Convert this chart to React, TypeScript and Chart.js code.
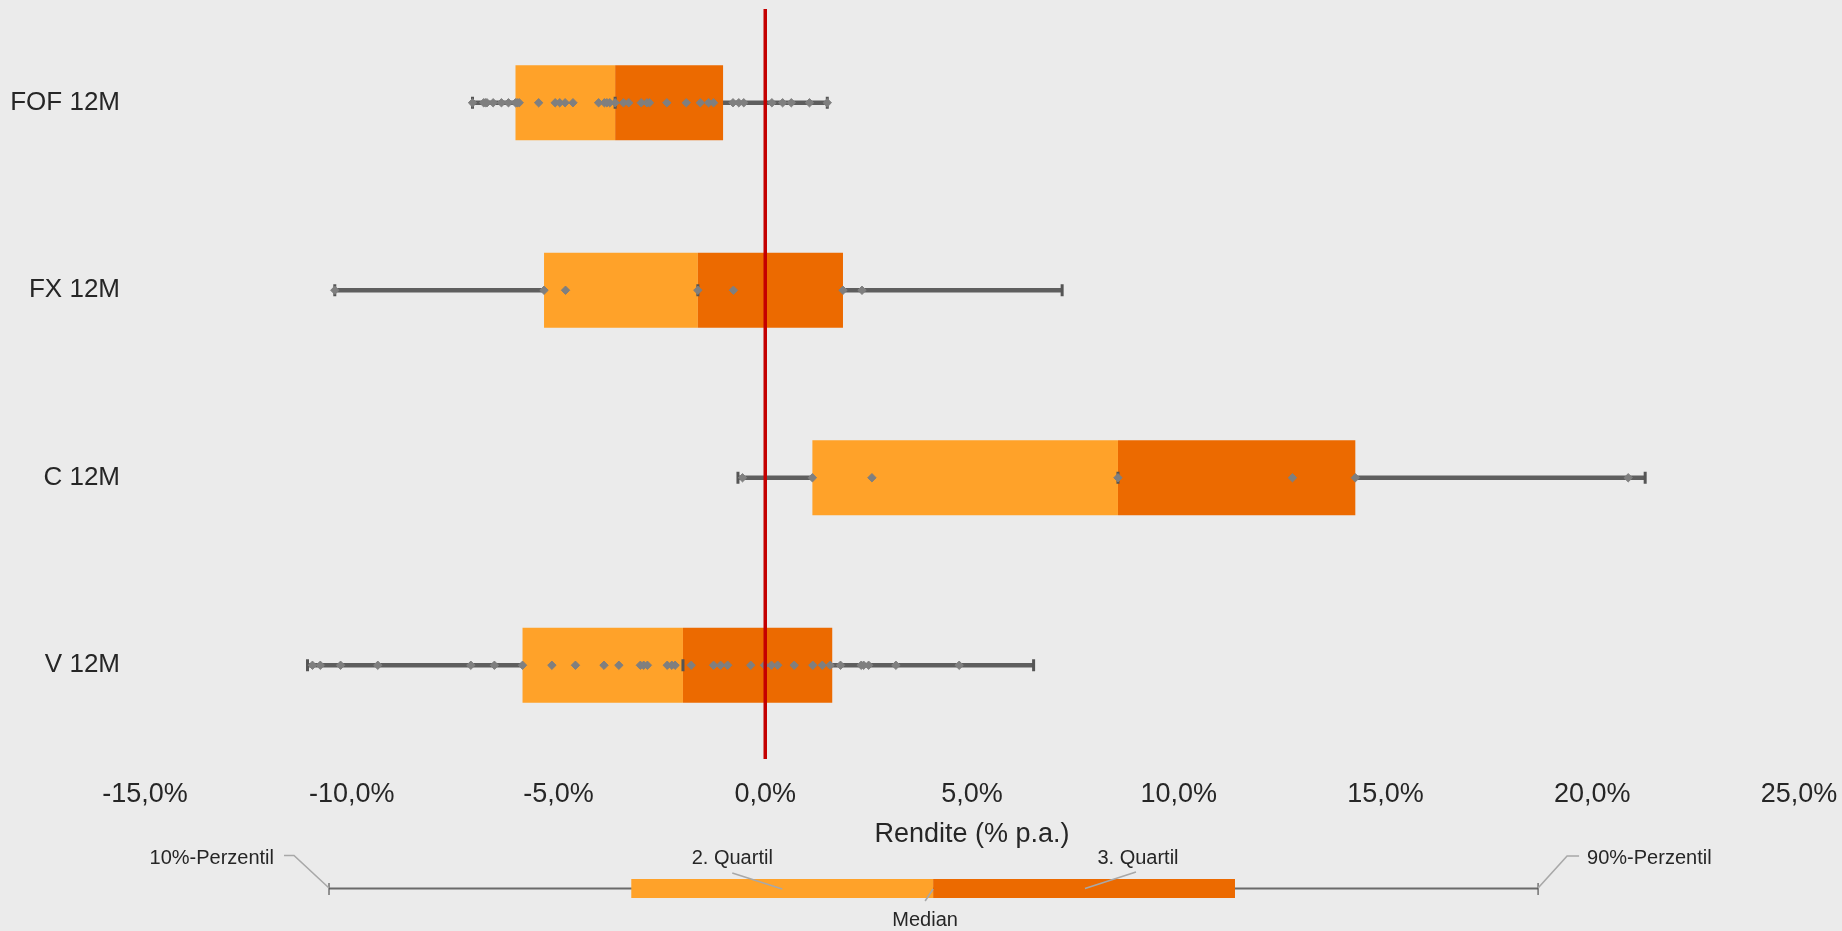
import { useEffect, useRef } from 'react';
import { Chart, registerables } from 'chart.js';

Chart.register(...registerables);

// ---- data ----
const categories = ['FOF 12M', 'FX 12M', 'C 12M', 'V 12M'];
const p10 = [-7.08, -10.41, -0.66, -11.07];
const q1 = [-6.04, -5.35, 1.14, -5.87];
const median = [-3.63, -1.63, 8.53, -1.99];
const q3 = [-1.02, 1.88, 14.27, 1.62];
const p90 = [1.5, 7.18, 21.28, 6.49];

const fofReturns = [
  -7.08, -6.81, -6.77, -6.73, -6.58, -6.38, -6.21, -6.04, -6.0, -5.95, -5.48, -5.08, -4.97,
  -4.84, -4.65, -4.03, -3.89, -3.83, -3.76, -3.63, -3.43, -3.3, -3.0, -2.86, -2.8, -2.38,
  -1.91, -1.57, -1.37, -1.25, -0.78, -0.64, -0.52, 0.16, 0.42, 0.63, 1.07, 1.5,
];
const fxReturns = [-10.41, -5.35, -4.83, -1.63, -0.77, 1.88, 2.34];
const cReturns = [-0.55, 1.14, 2.58, 8.53, 12.75, 14.27, 20.87];
const vReturns = [
  -10.95, -10.76, -10.27, -9.37, -7.12, -6.55, -5.87, -5.16, -4.59, -3.9, -3.54, -3.02, -2.94,
  -2.85, -2.37, -2.26, -2.18, -1.79, -1.25, -1.08, -0.91, -0.35, -0.02, 0.15, 0.3, 0.7, 1.15,
  1.38, 1.57, 1.82, 2.32, 2.38, 2.5, 3.16, 4.69,
];
const returnsByCategory = [fofReturns, fxReturns, cReturns, vReturns];

const xMin = -15;
const xMax = 25;
const xStep = 5;
const zeroLine = 0;
const axisTitle = 'Rendite (% p.a.)';

// schematic legend (in axis units)
const legendStats = [-10.55, -3.24, 4.06, 11.36, 18.69];
const legendLabels = ['10%-Perzentil', '2. Quartil', 'Median', '3. Quartil', '90%-Perzentil'];

const LIGHT = '#FFA229';
const DARK = '#EC6A00';
const FONT = '"Liberation Sans", Arial, Helvetica, sans-serif';
const TEXT = '#262626';

const zeroLinePlugin = {
  id: 'zeroLine',
  afterDatasetsDraw(chart: any) {
    const { ctx, chartArea, scales } = chart;
    const x = scales.x.getPixelForValue(zeroLine);
    ctx.save();
    ctx.strokeStyle = '#C40000';
    ctx.lineWidth = 3.5;
    ctx.beginPath();
    ctx.moveTo(x, chartArea.top);
    ctx.lineTo(x, chartArea.bottom);
    ctx.stroke();
    ctx.restore();
  },
};

const schematicLegendPlugin = {
  id: 'schematicLegend',
  afterDraw(chart: any) {
    const { ctx, scales } = chart;
    const px = legendStats.map((v) => scales.x.getPixelForValue(v));
    const [a, b, m, c, d] = px;
    const yMid = 888.5;
    ctx.save();
    // whisker line
    ctx.strokeStyle = '#6a6a6a';
    ctx.lineWidth = 2;
    ctx.beginPath();
    ctx.moveTo(a, yMid);
    ctx.lineTo(d, yMid);
    ctx.stroke();
    // caps
    ctx.strokeStyle = '#555';
    ctx.lineWidth = 1.2;
    ctx.beginPath();
    ctx.moveTo(a, 883);
    ctx.lineTo(a, 895);
    ctx.moveTo(d, 883);
    ctx.lineTo(d, 895);
    ctx.stroke();
    // boxes
    ctx.fillStyle = LIGHT;
    ctx.fillRect(b, 879, m - b, 19);
    ctx.fillStyle = DARK;
    ctx.fillRect(m, 879, c - m, 19);
    // leader lines
    ctx.strokeStyle = '#a8a8a8';
    ctx.lineWidth = 1.6;
    ctx.beginPath();
    ctx.moveTo(a - 45, 855.5);
    ctx.lineTo(a - 35, 855.5);
    ctx.lineTo(a, 888);
    ctx.moveTo(b + 101, 873);
    ctx.lineTo(b + 151, 889);
    ctx.moveTo(m, 889);
    ctx.lineTo(m - 8, 901);
    ctx.moveTo(c - 99, 872);
    ctx.lineTo(c - 150, 888.5);
    ctx.moveTo(d, 888);
    ctx.lineTo(d + 29, 856);
    ctx.lineTo(d + 41, 856);
    ctx.stroke();
    // labels
    ctx.fillStyle = TEXT;
    ctx.font = `20px ${FONT}`;
    ctx.textBaseline = 'middle';
    ctx.textAlign = 'right';
    ctx.fillText(legendLabels[0], a - 55, 858);
    ctx.textAlign = 'center';
    ctx.fillText(legendLabels[1], b + 101, 858);
    ctx.fillText(legendLabels[2], m - 8, 920);
    ctx.fillText(legendLabels[3], c - 97, 858);
    ctx.textAlign = 'left';
    ctx.fillText(legendLabels[4], d + 49, 858);
    ctx.restore();
  },
};

export default function App() {
  const canvasRef = useRef<HTMLCanvasElement | null>(null);

  useEffect(() => {
    if (!canvasRef.current) return;
    const points: any[] = [];
    returnsByCategory.forEach((arr, i) => arr.forEach((v) => points.push({ x: v, y: categories[i] })));
    const caps: any[] = [];
    categories.forEach((cat, i) => {
      caps.push({ x: p10[i], y: cat });
      caps.push({ x: p90[i], y: cat });
      caps.push({ x: median[i], y: cat });
    });

    const chart = new Chart(canvasRef.current, {
      type: 'bar',
      data: {
        labels: categories,
        datasets: [
          {
            type: 'scatter',
            label: 'Renditen',
            data: points,
            pointStyle: 'rectRot',
            pointRadius: 4.2,
            pointBorderWidth: 1,
            pointBackgroundColor: '#7f7f7f',
            pointBorderColor: '#7f7f7f',
            order: 1,
          } as any,
          {
            type: 'scatter',
            label: 'Marken',
            data: caps,
            pointStyle: 'line',
            rotation: 90,
            pointRadius: 6,
            pointBorderWidth: 3,
            pointBorderColor: '#555555',
            order: 2,
          } as any,
          {
            label: '3. Quartil',
            data: categories.map((_, i) => [median[i], q3[i]]),
            backgroundColor: DARK,
            barPercentage: 0.4,
            categoryPercentage: 1,
            grouped: false,
            order: 3,
          } as any,
          {
            label: '2. Quartil',
            data: categories.map((_, i) => [q1[i], median[i]]),
            backgroundColor: LIGHT,
            barPercentage: 0.4,
            categoryPercentage: 1,
            grouped: false,
            order: 4,
          } as any,
          {
            label: 'Spanne',
            data: categories.map((_, i) => [p10[i], p90[i]]),
            backgroundColor: '#5e5e5e',
            barThickness: 4,
            grouped: false,
            order: 5,
          } as any,
        ],
      },
      options: {
        indexAxis: 'y',
        responsive: false,
        animation: false,
        devicePixelRatio: 1,
        layout: { padding: { top: 8, right: 43, bottom: 72, left: 0 } },
        plugins: { legend: { display: false }, tooltip: { enabled: false } },
        scales: {
          x: {
            type: 'linear',
            min: xMin,
            max: xMax,
            grid: { display: false, drawTicks: false },
            border: { display: false },
            ticks: {
              stepSize: xStep,
              padding: 19,
              maxRotation: 0,
              color: TEXT,
              font: { family: FONT, size: 27 },
              callback: (v: any) => Number(v).toFixed(1).replace('.', ',') + '%',
            },
            title: {
              display: true,
              text: axisTitle,
              color: TEXT,
              font: { family: FONT, size: 27 },
              padding: { top: 0, bottom: 8 },
            },
            afterFit: (scale: any) => {
              scale.height = 100;
              scale.paddingLeft = 0;
              scale.paddingRight = 0;
            },
          },
          y: {
            type: 'category',
            grid: { display: false, drawTicks: false },
            border: { display: false },
            ticks: {
              padding: 25,
              color: TEXT,
              font: { family: FONT, size: 26 },
            },
            afterFit: (scale: any) => {
              scale.width = 145;
              scale.paddingTop = 0;
              scale.paddingBottom = 0;
            },
          },
        },
      } as any,
      plugins: [zeroLinePlugin, schematicLegendPlugin],
    });
    return () => chart.destroy();
  }, []);

  return (
    <div
      style={{
        position: 'fixed',
        left: 0,
        top: 0,
        width: 1842,
        height: 931,
        background: '#EBEBEB',
      }}
    >
      <canvas ref={canvasRef} width={1842} height={931} style={{ width: 1842, height: 931, display: 'block' }} />
    </div>
  );
}
